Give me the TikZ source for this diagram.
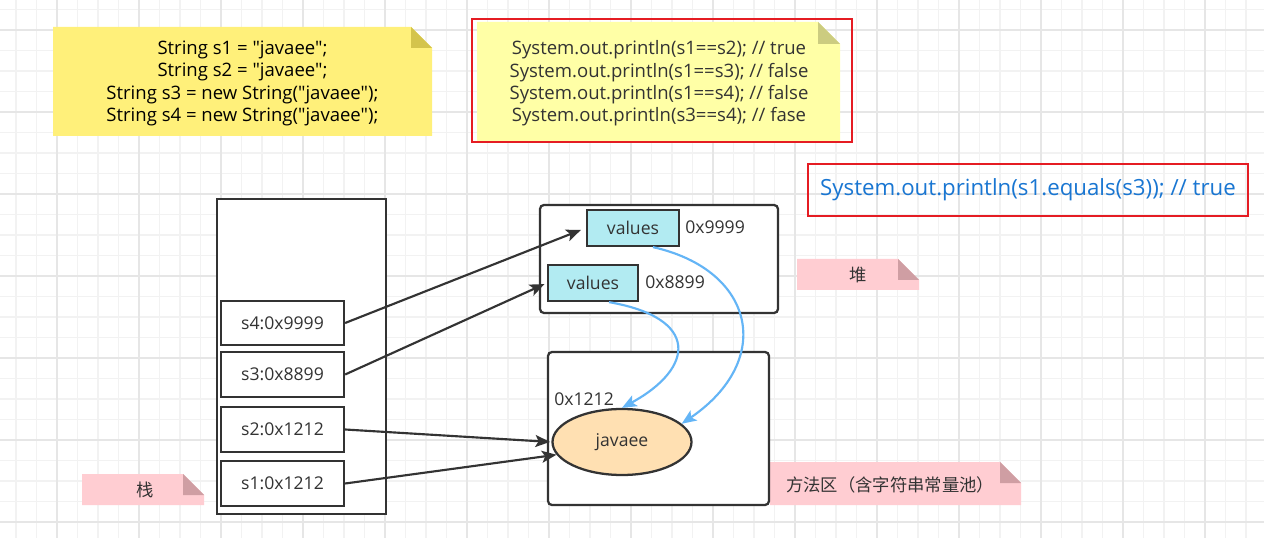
\documentclass[tikz,border=0pt]{standalone}
\usepackage{fontspec}
\setmainfont{Open Sans}[Ligatures=TeXOff]
\newfontfamily\cjk{Noto Sans CJK SC}
\usetikzlibrary{arrows.meta,shapes.geometric}
\definecolor{dark}{HTML}{333333}
\definecolor{gridmin}{HTML}{F2F2F2}
\definecolor{gridmaj}{HTML}{E6E6E6}
\definecolor{yel}{HTML}{FFF07A}
\definecolor{yelfold}{HTML}{D4C44C}
\definecolor{pale}{HTML}{FFFFA6}
\definecolor{palefold}{HTML}{CCCC80}
\definecolor{pink}{HTML}{FFCDD2}
\definecolor{pinkfold}{HTML}{CF9EA3}
\definecolor{cyanbox}{HTML}{B2EBF2}
\definecolor{peach}{HTML}{FFE0B2}
\definecolor{bluearrow}{HTML}{64B5F6}
\definecolor{bluetext}{HTML}{1976D2}
\definecolor{redline}{HTML}{E51C23}
\newcommand\fsA{\fontsize{13.2pt}{16.7pt}\selectfont}
\newcommand\fsN{\fontsize{13.9pt}{16.7pt}\selectfont}
\newcommand\fsB{\fontsize{16.7pt}{20pt}\selectfont}
\newcommand\fsC{\fontsize{13pt}{15pt}\selectfont}
\tikzset{
  gminor/.style={draw=gridmin, line width=1pt},
  gmajor/.style={draw=gridmaj, line width=1.2pt},
  box/.style={draw=dark, line width=1.7pt, fill=white, inner sep=0pt, text=dark, font=\fsA},
  cell/.style={box, minimum width=92.25pt, minimum height=33.5pt},
  valbox/.style={box, fill=cyanbox, minimum height=27pt},
  area/.style={draw=dark, line width=1.7pt, fill=white, rounded corners=3pt, inner sep=0pt},
  addr/.style={anchor=west, inner sep=0pt, text=dark, font=\fsA},
  ptr/.style={draw=dark, line width=1.6pt, -{Stealth[length=11pt,width=9pt,inset=2.5pt]}},
  ref/.style={draw=bluearrow, line width=1.6pt, -{Stealth[length=11pt,width=9pt,inset=2.5pt]}},
  notetext/.style={align=center, inner sep=0pt, font=\fsN},
  pinktext/.style={inner sep=0pt, text=dark, font=\cjk\fsC},
}
\begin{document}
\begin{tikzpicture}[x=0.75pt,y=-0.75pt]
\useasboundingbox (0,0) rectangle (1264,538);
\fill[white] (0,0) rectangle (1264,538);
% grid
\foreach \i in {1,...,62} \draw[gminor] ({-4.5+20.5*\i},0) -- ({-4.5+20.5*\i},538);
\foreach \j in {0,...,26} \draw[gminor] (0,{9.5+20.5*\j}) -- (1264,{9.5+20.5*\j});
\foreach \i in {0,...,14} \draw[gmajor] ({57+82*\i},0) -- ({57+82*\i},538);
\foreach \j in {0,...,6} \draw[gmajor] (0,{30+82*\j}) -- (1264,{30+82*\j});

% note 1
\fill[yel] (53,27) -- (411,27) -- (432,48) -- (432,136) -- (53,136) -- cycle;
\fill[yelfold] (411,27) -- (411,48) -- (432,48) -- cycle;
\node[notetext, text=black] (code) at (242.5,83.5) {String s1 = "javaee";\\String s2 = "javaee";\\String s3 = new String("javaee");\\String s4 = new String("javaee");};

% note 2
\draw[redline, line width=0.8pt] (472,19) rectangle (852,142);
\fill[pale] (477,22) -- (818,22) -- (840,44) -- (840,141) -- (477,141) -- cycle;
\fill[palefold] (818,22) -- (818,44) -- (840,44) -- cycle;
\node[notetext, text=dark] (cmp) at (659,83.5) {System.out.println(s1==s2); // true\\System.out.println(s1==s3); // false\\System.out.println(s1==s4); // false\\System.out.println(s3==s4); // fase};

% equals box
\node[draw=redline, line width=0.8pt, minimum width=330pt, minimum height=39pt, inner sep=0pt, text=bluetext, font=\fsB] (eq) at (1028,190) {System.out.println(s1.equals(s3)); // true};

% pink labels
\fill[pink] (797,259) -- (898,259) -- (919,280) -- (919,290) -- (797,290) -- cycle;
\fill[pinkfold] (898,259) -- (898,280) -- (919,280) -- cycle;
\node[pinktext] (heaplbl) at (858,275) {堆};

\fill[pink] (82,474) -- (183,474) -- (204,495) -- (204,505) -- (82,505) -- cycle;
\fill[pinkfold] (183,474) -- (183,495) -- (204,495) -- cycle;
\node[pinktext] (stacklbl) at (145,490) {栈};

\fill[pink] (770,462) -- (1000,462) -- (1021,483) -- (1021,505) -- (770,505) -- cycle;
\fill[pinkfold] (1000,462) -- (1000,483) -- (1021,483) -- cycle;
\node[pinktext] (methlbl) at (890,485) {方法区（含字符串常量池）};

% stack
\node[box, minimum width=126.75pt, minimum height=236.25pt] (stack) at (301.5,356.5) {};
\node[cell] (s4) at (282.5,323) {s4:0x9999};
\node[cell] (s3) at (282.5,374.5) {s3:0x8899};
\node[cell] (s2) at (282.5,429.5) {s2:0x1212};
\node[cell] (s1) at (282.5,483.5) {s1:0x1212};

% heap
\node[area, minimum width=178.5pt, minimum height=81pt] (heap) at (659,259) {};
\node[valbox, minimum width=69pt] (v1) at (633,228) {values};
\node[valbox, minimum width=67.5pt] (v2) at (593,283) {values};
\node[addr] (a1) at (685,227) {0x9999};
\node[addr] (a2) at (645,282) {0x8899};

% method area
\node[area, minimum width=165.75pt, minimum height=114.75pt] (meth) at (658.5,428.5) {};
\node[addr] (a3) at (554,399) {0x1212};
\node[ellipse, draw=dark, line width=1.7pt, fill=peach, minimum width=104.25pt, minimum height=49.5pt, inner sep=0pt, text=dark, font=\fsA] (str) at (622,442) {javaee};

% pointers
\draw[ptr, shorten >=4pt] (s4.east) -- (v1.west);
\draw[ptr, shorten >=2pt] (s3.east) -- (v2.west);
\draw[ptr, shorten >=1pt] (s2.east) -- (str.west);
\draw[ptr] (s1.east) -- (str.191);

% references
\draw[ref] ([xshift=12pt]v2.south) .. controls (700,318) and (695,368) .. (str.north);
\draw[ref] ([xshift=15pt]v1.south) .. controls (755,270) and (775,360) .. (str.17);
\end{tikzpicture}
\end{document}
